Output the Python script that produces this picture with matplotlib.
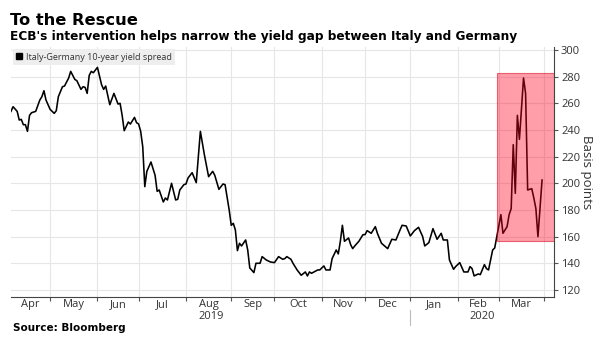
import numpy as np
import pandas as pd
import matplotlib
matplotlib.use("Agg")
import matplotlib.pyplot as plt
import matplotlib.transforms as mtransforms
from matplotlib.patches import Rectangle
from matplotlib.lines import Line2D

# Italy-Germany 10-year spread, basis points (weekday axis)
dates = [
    "2019-04-04", "2019-04-05", "2019-04-09", "2019-04-10", "2019-04-11", "2019-04-12",
    "2019-04-15", "2019-04-16", "2019-04-17", "2019-04-18", "2019-04-22", "2019-04-24",
    "2019-04-25", "2019-04-26", "2019-04-29",
    "2019-05-01", "2019-05-03", "2019-05-06", "2019-05-07", "2019-05-09", "2019-05-10",
    "2019-05-14", "2019-05-15", "2019-05-17", "2019-05-20", "2019-05-22", "2019-05-23",
    "2019-05-24", "2019-05-27", "2019-05-28", "2019-05-29", "2019-05-30",
    "2019-06-03", "2019-06-05", "2019-06-06", "2019-06-07", "2019-06-11", "2019-06-13",
    "2019-06-17", "2019-06-18", "2019-06-19", "2019-06-20", "2019-06-24", "2019-06-25",
    "2019-06-27", "2019-06-28",
    "2019-07-01", "2019-07-02", "2019-07-03", "2019-07-04", "2019-07-05", "2019-07-09",
    "2019-07-11", "2019-07-12", "2019-07-15", "2019-07-17", "2019-07-18", "2019-07-19",
    "2019-07-23", "2019-07-25", "2019-07-26", "2019-07-29", "2019-07-31",
    "2019-08-01", "2019-08-02", "2019-08-06", "2019-08-08", "2019-08-12", "2019-08-14",
    "2019-08-16", "2019-08-20", "2019-08-21", "2019-08-23", "2019-08-27", "2019-08-28",
    "2019-08-30",
    "2019-09-02", "2019-09-03", "2019-09-04", "2019-09-05", "2019-09-06", "2019-09-09",
    "2019-09-11", "2019-09-12", "2019-09-13", "2019-09-17", "2019-09-18", "2019-09-20",
    "2019-09-23", "2019-09-25", "2019-09-27",
    "2019-10-01", "2019-10-03", "2019-10-07", "2019-10-08", "2019-10-09", "2019-10-11",
    "2019-10-14", "2019-10-16", "2019-10-18", "2019-10-22", "2019-10-23", "2019-10-24",
    "2019-10-25", "2019-10-30", "2019-10-31",
    "2019-11-04", "2019-11-05", "2019-11-07", "2019-11-08", "2019-11-12", "2019-11-13",
    "2019-11-14", "2019-11-15", "2019-11-18", "2019-11-20", "2019-11-21", "2019-11-22",
    "2019-11-25", "2019-11-27", "2019-11-29",
    "2019-12-02", "2019-12-03", "2019-12-05", "2019-12-09", "2019-12-10", "2019-12-12",
    "2019-12-17", "2019-12-19", "2019-12-23", "2019-12-25", "2019-12-26", "2019-12-30",
    "2020-01-01", "2020-01-03", "2020-01-07", "2020-01-09", "2020-01-10", "2020-01-14",
    "2020-01-16", "2020-01-20", "2020-01-22", "2020-01-23", "2020-01-27", "2020-01-28",
    "2020-01-30", "2020-01-31",
    "2020-02-04", "2020-02-06", "2020-02-10", "2020-02-11", "2020-02-12", "2020-02-13",
    "2020-02-17", "2020-02-18", "2020-02-20", "2020-02-21", "2020-02-24", "2020-02-26",
    "2020-02-27", "2020-02-28",
    "2020-03-03", "2020-03-04", "2020-03-06", "2020-03-09", "2020-03-10", "2020-03-11",
    "2020-03-12", "2020-03-13", "2020-03-16", "2020-03-18", "2020-03-19", "2020-03-20",
    "2020-03-24", "2020-03-25", "2020-03-26", "2020-03-27", "2020-03-31",
]
spread = [
    254, 257.5, 254, 247.5, 248, 244,
    244, 239, 251, 253, 254, 262.5,
    265, 269.5, 262.5,
    255.5, 252.5, 254.5, 265, 272.5, 273,
    279, 284, 278, 277, 270.5, 272.5,
    272, 267.5, 281, 284, 283,
    287, 274, 270.5, 273, 259, 267.5,
    259.5, 260, 251, 239.5, 246, 244.5,
    249.5, 245.5,
    244.5, 239, 227.5, 197.5, 209, 216,
    206, 194, 195, 186, 189, 187.5,
    200, 187.5, 188, 195, 199,
    199.5, 204, 208, 200.5, 239, 221,
    205, 209, 206, 195.5, 199.5, 199,
    180,
    168.5, 170, 165, 149.5, 155, 153,
    157.5, 150, 136.5, 133, 140, 140,
    145, 142.5, 141,
    140.5, 145, 143, 143.5, 145, 143,
    140, 135, 131, 133.5, 130.5, 133.5,
    132.5, 135, 135,
    138, 135, 135, 143.5, 150, 147,
    156.5, 168.5, 156.5, 159, 154, 151,
    153, 156.5, 161.5,
    161.5, 164.5, 162.5, 167.5, 162.5, 155,
    151, 158, 157.5, 165, 168.5, 168,
    160.5, 164.5, 167, 160, 153, 155.5,
    166, 158, 162.5, 157.5, 157.5, 142.5,
    135.5, 137.5,
    140.5, 133.5, 133.5, 137.5, 136, 130.5,
    132, 131.5, 139, 136, 135, 150,
    151.5, 160,
    176.5, 162.5, 167.5, 176.5, 181, 229,
    192.5, 251, 233, 279, 267.5, 195,
    196, 189, 181, 160, 202.5,
]

month_names = ["Apr", "May", "Jun", "Jul", "Aug", "Sep", "Oct", "Nov", "Dec",
               "Jan", "Feb", "Mar"]
year_names = ["2019", "2020"]
y_ticks = [120, 140, 160, 180, 200, 220, 240, 260, 280, 300]

# highlighted window after the ECB announcement
box_start = "2020-02-28"
box_low, box_high = 157, 282.5

ORIGIN = "2019-04-01"


def bday_pos(d):
    return np.busday_count(ORIGIN, np.array(d, dtype="datetime64[D]"))


x = bday_pos(dates)
x_left = 3
x_right = bday_pos("2020-04-07") + 0.8

fig = plt.figure(figsize=(6, 3.44), dpi=100)
ax = fig.add_axes([11 / 600, 1 - 297 / 344, 543 / 600, 250 / 344])

ax.plot(x, spread, color="black", lw=1.15, zorder=2)

bx0 = bday_pos(box_start) + 0.2
ax.add_patch(Rectangle((bx0, box_low), x_right - bx0, box_high - box_low,
                       facecolor=(1.0, 0.0, 0.12, 0.38),
                       edgecolor=(0.85, 0.0, 0.1, 0.55), lw=0.8, zorder=3))

ax.set_xlim(x_left, x_right)
ax.set_ylim(114.7, 302.3)

# month boundaries -> grid + tick marks, labels centred in each month
month_starts = pd.date_range("2019-04-01", "2020-04-01", freq="MS").strftime("%Y-%m-%d")
mpos = bday_pos(list(month_starts))
ax.set_xticks(mpos[1:])
ax.set_xticklabels([])
ax.tick_params(axis="x", length=3, width=0.8, color="#555555", direction="out")

trans = mtransforms.blended_transform_factory(ax.transData, ax.transAxes)
for i, name in enumerate(month_names):
    a = max(mpos[i], x_left)
    b = mpos[i + 1]
    ax.text((a + b) / 2, -0.03, name, transform=trans, ha="center", va="center",
            fontsize=8, color="#333333", family="Open Sans")

jan = bday_pos("2020-01-01")
ax.text((x_left + jan) / 2, -0.078, year_names[0], transform=trans, ha="center",
        va="center", fontsize=8, color="#333333", family="Open Sans")
ax.text((jan + x_right) / 2, -0.078, year_names[1], transform=trans, ha="center",
        va="center", fontsize=8, color="#333333", family="Open Sans")
ax.plot([jan, jan], [-0.052, -0.112], transform=trans, color="#bbbbbb", lw=0.8,
        clip_on=False)

ax.yaxis.tick_right()
ax.yaxis.set_label_position("right")
ax.set_yticks(y_ticks)
ax.tick_params(axis="y", length=3, width=0.8, color="#555555", pad=2,
               labelsize=8, labelcolor="#333333")
for lab in ax.get_yticklabels():
    lab.set_family("Open Sans")
ax.set_ylabel("Basis points", rotation=270, labelpad=9, fontsize=9.5,
              color="#333333", family="Open Sans")

ax.grid(True, color="#e6e6e6", lw=0.8, zorder=0)
ax.set_axisbelow(True)
for side in ["left", "top"]:
    ax.spines[side].set_visible(False)
for side in ["bottom", "right"]:
    ax.spines[side].set_color("#444444")
    ax.spines[side].set_linewidth(0.8)

handle = Line2D([], [], marker="s", color="black", ls="none", markersize=4)
leg = ax.legend([handle], ["Italy-Germany 10-year yield spread"], loc="upper left",
                bbox_to_anchor=(0.0, 1.0), frameon=True, fancybox=False,
                facecolor="#eeeeee", edgecolor="none", framealpha=1,
                handlelength=0.6, handletextpad=0.4, borderpad=0.4,
                borderaxespad=0.22, prop={"family": "Open Sans", "size": 6.5})
for t in leg.get_texts():
    t.set_color("#333333")

fig.text(10 / 600, 1 - 25 / 344, "To the Rescue", fontsize=11.7, fontweight="bold",
         family="DejaVu Sans", va="baseline")
fig.text(10 / 600, 1 - 40 / 344, "ECB's intervention helps narrow the yield gap between Italy and Germany",
         fontsize=8.7, fontweight="bold", family="DejaVu Sans", va="baseline")
fig.text(13 / 600, 1 - 331 / 344, "Source: Bloomberg", fontsize=7.5, fontweight="bold",
         family="DejaVu Sans", va="baseline")

fig.savefig("out.png", dpi=100)
